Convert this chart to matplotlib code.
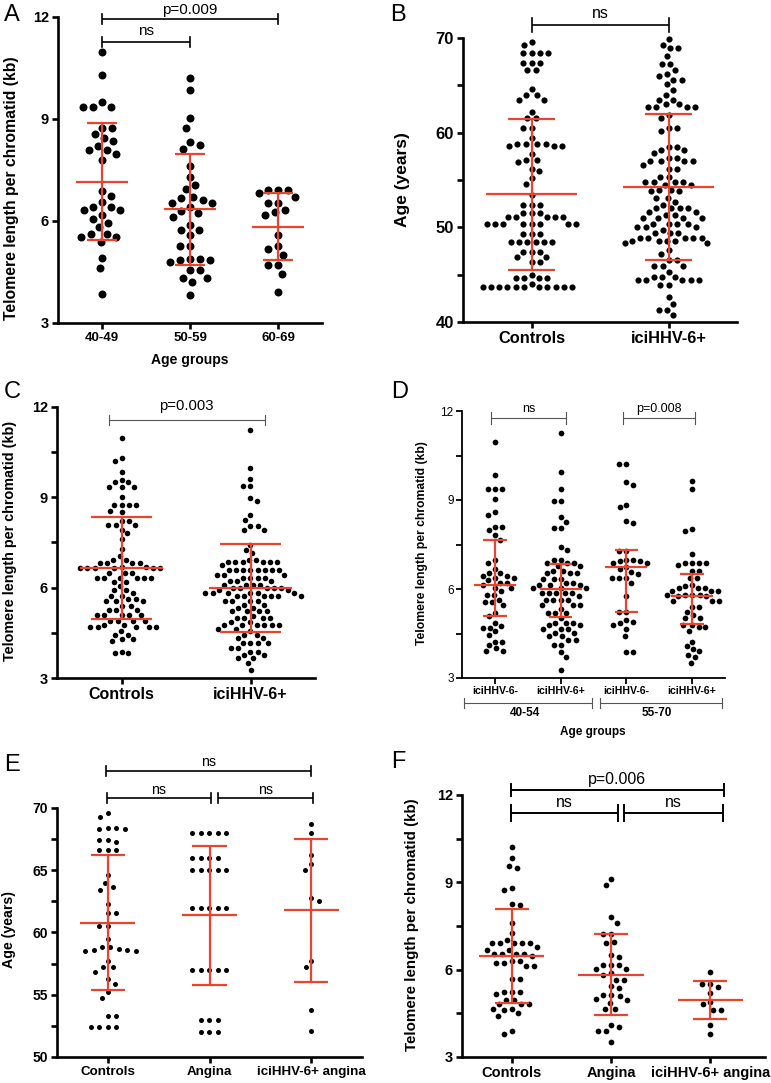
import numpy as np
import matplotlib
matplotlib.use("Agg")
import matplotlib.pyplot as plt

plt.rcParams['font.family'] = ['Liberation Sans', 'DejaVu Sans']

# ---------------- DATA ----------------
# Panel A: telomere length by age group
A_groups = ['40-49', '50-59', '60-69']
A_40_49 = [10.97, 10.30, 9.49, 9.35, 9.35, 9.35, 8.75, 8.75, 8.55, 8.45, 8.35, 8.22, 8.09, 8.09, 7.97,
           7.80, 6.89, 6.74, 6.55, 6.42, 6.42, 6.32, 6.32, 6.17, 6.07, 5.93, 5.81, 5.63, 5.63, 5.53,
           5.53, 5.39, 4.92, 4.63, 3.84]
A_50_59 = [10.21, 9.84, 9.02, 8.75, 8.31, 8.24, 8.11, 7.63, 7.30, 7.05, 6.93, 6.72, 6.67, 6.62, 6.54,
           6.54, 6.42, 6.30, 6.25, 6.13, 5.88, 5.73, 5.73, 5.58, 5.27, 5.27, 4.87, 4.87, 4.84, 4.84,
           4.78, 4.55, 4.55, 4.33, 4.33, 4.21, 3.82]
A_60_69 = [6.92, 6.92, 6.92, 6.82, 6.72, 6.54, 6.54, 6.32, 6.26, 6.17, 5.60, 5.26, 5.19, 5.00, 4.70,
           4.70, 4.43, 3.91]
A_mean = [7.16, 6.34, 5.83]
A_sd = [1.73, 1.63, 0.99]

# Panel B: age of controls and iciHHV-6+
B_groups = ['Controls', 'iciHHV-6+']
B_controls = [69.6, 69.3, 68.4, 68.4, 68.4, 68.4, 67.35, 67.35, 67.35, 66.6, 66.6, 64.6, 64.0, 64.0,
              63.5, 63.5, 62.2, 61.5, 61.5, 60.5, 60.5, 59.4, 58.8, 58.8, 58.8, 58.6, 58.6, 58.6, 58.8,
              57.7, 57.1, 57.1, 56.9, 56.2, 55.9, 55.2, 54.6, 53.4, 52.4, 52.4, 52.4, 51.5, 51.5, 51.5,
              51.1, 51.1, 51.1, 51.1, 51.1, 50.4, 50.4, 50.4, 50.4, 50.4, 50.4, 50.4, 50.4, 49.25, 49.25,
              49.25, 48.5, 48.5, 48.5, 48.5, 48.5, 48.5, 47.4, 47.4, 47.4, 46.9, 46.9, 46.3, 46.3, 45.0,
              44.6, 44.6, 44.6, 44.6, 44.0, 43.7, 43.7, 43.7, 43.7, 43.7, 43.7, 43.7, 43.7, 43.7, 43.7,
              43.7]
B_ici = [69.9, 69.3, 68.9, 68.9, 68.1, 67.3, 67.3, 66.6, 66.2, 66.0, 65.6, 65.6, 65.1, 64.5, 64.0,
         63.5, 63.5, 63.0, 63.0, 62.7, 62.7, 62.7, 62.7, 61.9, 61.5, 60.5, 60.5, 60.2, 58.5, 58.5,
         58.2, 58.2, 57.8, 57.3, 57.3, 57.0, 57.0, 57.0, 57.0, 56.6, 56.2, 56.2, 55.3, 55.3, 54.8,
         54.8, 54.8, 54.8, 54.5, 54.5, 53.9, 53.9, 53.8, 53.8, 53.1, 53.1, 52.7, 52.4, 52.0, 52.0,
         52.0, 52.0, 51.6, 51.6, 51.3, 51.3, 51.0, 51.0, 51.0, 51.0, 50.3, 50.3, 50.3, 50.3, 50.0,
         50.0, 50.0, 49.7, 49.4, 49.4, 49.4, 48.9, 48.9, 48.9, 48.9, 48.9, 48.6, 48.6, 48.6, 48.6,
         48.3, 48.3, 47.6, 47.2, 46.5, 46.5, 45.9, 45.9, 45.9, 45.3, 44.8, 44.8, 44.8, 44.4, 44.4,
         44.4, 44.4, 44.4, 43.9, 43.9, 42.6, 41.9, 41.3, 41.3, 40.7]
B_mean = [53.48, 54.3]
B_sd = [8.0, 7.7]

# Panel C: telomere length, controls vs iciHHV-6+
C_groups = ['Controls', 'iciHHV-6+']
C_controls = [10.97, 10.31, 10.2, 9.83, 9.59, 9.5, 9.5, 9.35, 9.35, 9.35, 9.0, 8.75, 8.75, 8.75, 8.75,
              8.55, 8.5, 8.22, 8.22, 8.09, 8.09, 8.09, 7.93, 7.8, 7.6, 7.27, 7.04, 6.93, 6.93, 6.82,
              6.82, 6.82, 6.82, 6.7, 6.7, 6.66, 6.66, 6.66, 6.66, 6.66, 6.66, 6.49, 6.49, 6.49, 6.32,
              6.32, 6.32, 6.32, 6.32, 6.32, 6.18, 6.18, 6.04, 5.93, 5.93, 5.82, 5.71, 5.71, 5.62, 5.62,
              5.55, 5.55, 5.55, 5.4, 5.4, 5.27, 5.27, 5.27, 5.08, 5.08, 5.08, 5.08, 5.08, 4.88, 4.88,
              4.88, 4.88, 4.77, 4.77, 4.68, 4.68, 4.68, 4.68, 4.68, 4.55, 4.44, 4.44, 4.3, 4.3, 4.22,
              3.88, 3.83, 3.83]
C_ici = [11.25, 9.97, 9.62, 9.37, 9.37, 8.98, 8.87, 8.42, 8.26, 8.04, 8.04, 7.93, 7.93, 7.43, 7.26,
         7.15, 6.93, 6.93, 6.84, 6.84, 6.84, 6.84, 6.84, 6.84, 6.76, 6.6, 6.6, 6.6, 6.6, 6.6, 6.6,
         6.6, 6.6, 6.43, 6.43, 6.43, 6.32, 6.32, 6.32, 6.32, 6.21, 6.21, 6.21, 6.1, 6.1, 6.1, 6.1,
         5.99, 5.99, 5.99, 5.99, 5.99, 5.91, 5.91, 5.82, 5.82, 5.82, 5.82, 5.82, 5.82, 5.71, 5.71,
         5.71, 5.71, 5.71, 5.71, 5.55, 5.55, 5.55, 5.55, 5.44, 5.44, 5.33, 5.33, 5.21, 5.21, 5.21,
         5.21, 5.07, 5.0, 5.0, 5.0, 5.0, 4.85, 4.85, 4.77, 4.77, 4.77, 4.77, 4.77, 4.77, 4.64, 4.64,
         4.55, 4.44, 4.44, 4.33, 4.33, 4.16, 4.16, 4.16, 4.16, 4.0, 4.0, 3.88, 3.88, 3.77, 3.77,
         3.66, 3.66, 3.5, 3.28]
C_mean = [6.65, 5.99]
C_sd = [1.69, 1.47]

# Panel D: telomere length by HHV-6 status within age groups (median with IQR)
D_groups = ['iciHHV-6-', 'iciHHV-6+', 'iciHHV-6-', 'iciHHV-6+']
D_age_groups = ['40-54', '55-70']
D_neg_40_54 = [10.97, 9.85, 9.36, 9.36, 9.36, 9.03, 8.58, 8.5, 8.1, 8.1, 8.0, 7.83, 7.66, 6.98, 6.89,
               6.67, 6.53, 6.53, 6.44, 6.44, 6.37, 6.37, 6.29, 6.2, 6.2, 6.14, 6.03, 6.03, 5.94, 5.8,
               5.8, 5.64, 5.55, 5.55, 5.47, 5.19, 5.08, 4.85, 4.76, 4.7, 4.7, 4.57, 4.46, 4.23, 4.23,
               4.12, 4.0, 3.9, 3.9]
D_pos_40_54 = [11.25, 9.96, 9.36, 8.95, 8.95, 8.42, 8.27, 8.05, 8.05, 7.41, 7.3, 6.98, 6.98, 6.89,
               6.89, 6.89, 6.76, 6.76, 6.59, 6.59, 6.53, 6.53, 6.53, 6.33, 6.33, 6.33, 6.2, 6.2, 6.14,
               6.14, 6.14, 6.03, 6.03, 6.03, 5.86, 5.86, 5.86, 5.86, 5.86, 5.75, 5.64, 5.64, 5.64, 5.64,
               5.47, 5.47, 5.47, 5.32, 5.19, 5.19, 5.19, 5.02, 4.87, 4.87, 4.87, 4.8, 4.8, 4.65, 4.65,
               4.65, 4.51, 4.51, 4.42, 4.42, 4.29, 4.29, 4.12, 4.12, 3.86, 3.7, 3.26]
D_neg_55_70 = [10.22, 10.22, 9.59, 9.5, 8.83, 8.76, 8.3, 8.24, 7.29, 7.29, 6.98, 6.98, 6.93, 6.93,
               6.87, 6.87, 6.74, 6.67, 6.56, 6.5, 6.37, 6.37, 6.37, 6.2, 5.75, 5.24, 5.24, 4.96, 4.9,
               4.85, 4.8, 4.65, 4.42, 3.86, 3.86]
D_pos_55_70 = [9.64, 9.37, 8.02, 7.97, 7.19, 6.87, 6.87, 6.87, 6.87, 6.81, 6.59, 6.59, 6.37, 6.37,
               6.14, 6.1, 6.03, 6.03, 6.03, 5.92, 5.92, 5.92, 5.8, 5.8, 5.8, 5.8, 5.75, 5.75, 5.61,
               5.61, 5.61, 5.41, 5.41, 5.24, 5.13, 5.02, 5.02, 4.8, 4.8, 4.71, 4.71, 4.59, 4.23, 4.09,
               3.97, 3.9, 3.78, 3.7, 3.5]
D_median = [6.14, 6.0, 6.73, 5.78]
D_q1 = [5.08, 5.05, 5.24, 4.82]
D_q3 = [7.66, 6.84, 7.30, 6.51]

# Panel E: age in controls / angina / iciHHV-6+ angina
E_groups = ['Controls', 'Angina', 'iciHHV-6+ angina']
E_controls = [69.6, 69.3, 68.4, 68.35, 68.35, 68.4, 67.4, 67.4, 67.3, 66.6, 66.6, 66.65, 64.65, 64.0,
              63.65, 63.45, 62.25, 61.55, 61.55, 60.55, 60.55, 59.5, 58.85, 58.7, 58.6, 58.55, 58.55,
              58.6, 58.8, 57.75, 57.2, 57.2, 56.85, 56.3, 55.9, 55.2, 54.7, 53.3, 53.3, 52.4, 52.4,
              52.4, 52.4]
E_angina = [68.0, 68.0, 68.0, 68.0, 68.0, 66.0, 66.0, 66.0, 66.0, 65.0, 65.0, 65.0, 65.0, 65.0,
            62.0, 62.0, 62.0, 62.0, 62.0, 57.0, 57.0, 57.0, 57.0, 57.0, 53.0, 53.0, 53.0, 52.0,
            52.0, 52.0]
E_ici_angina = [68.75, 68.0, 66.25, 65.5, 65.05, 62.8, 62.5, 57.75, 57.2, 53.75, 52.1]
E_mean = [60.8, 61.38, 61.78]
E_sd = [5.45, 5.6, 5.73]

# Panel F: telomere length in controls / angina / iciHHV-6+ angina
F_groups = ['Controls', 'Angina', 'iciHHV-6+ angina']
F_controls = [10.2, 9.82, 9.56, 9.48, 8.82, 8.73, 8.27, 8.22, 7.59, 7.26, 7.03, 6.9, 6.9, 6.9, 6.9,
              6.9, 6.78, 6.69, 6.69, 6.55, 6.55, 6.55, 6.55, 6.47, 6.3, 6.3, 6.23, 6.23, 6.12, 6.12,
              5.68, 5.68, 5.23, 5.23, 5.23, 5.15, 4.97, 4.97, 4.83, 4.83, 4.83, 4.66, 4.66, 4.6, 4.51,
              4.41, 3.89, 3.8]
F_angina = [9.1, 8.9, 7.81, 7.62, 7.21, 7.21, 6.95, 6.92, 6.52, 6.44, 6.17, 6.17, 6.15, 6.04, 6.04,
            5.87, 5.81, 5.66, 5.66, 5.43, 5.37, 5.14, 5.14, 5.1, 5.0, 4.97, 4.87, 4.66, 4.66, 4.09,
            4.03, 3.89, 3.89, 3.51]
F_ici_angina = [5.92, 5.52, 5.52, 5.4, 5.2, 4.89, 4.81, 4.6, 4.63, 4.09, 3.8]
F_mean = [6.47, 5.83, 4.95]
F_sd = [1.61, 1.38, 0.65]

# ---------------- HELPERS ----------------
W, H = 771, 1083
RED = '#e8452c'
fig = plt.figure(figsize=(W / 100, H / 100), dpi=100)


def add_ax(l, t, r, b):
    return fig.add_axes([l / W, 1 - b / H, (r - l) / W, (b - t) / H])


def ftext(x, y, s, **kw):
    fig.text(x / W, 1 - y / H, s, **kw)


def swarm_x(ax, xc, vals, dpx):
    vals = np.asarray(vals, float)
    disp = ax.transData.transform(np.column_stack([np.full(len(vals), float(xc)), vals]))
    x0 = disp[0, 0]
    ys = disp[:, 1]
    offs = np.zeros(len(vals))
    placed = []
    flip = 1
    for i in np.argsort(-ys, kind='stable'):
        y = ys[i]
        ints = []
        for px, py in placed:
            dy = abs(y - py)
            if dy < dpx:
                w = np.sqrt(dpx ** 2 - dy ** 2)
                ints.append((px - w, px + w))
        cands = [0.0] + [a for a, b in ints] + [b for a, b in ints]
        cands.sort(key=lambda c: (round(abs(c), 6), flip * c))
        off = 0.0
        for c in cands:
            if all(not (a + 1e-6 < c < b - 1e-6) for a, b in ints):
                off = c
                break
        if off != 0:
            flip = -flip
        placed.append((off, y))
        offs[i] = off
    return ax.transData.inverted().transform(np.column_stack([x0 + offs, ys]))[:, 0]


def setup(ax, xlim, ylim, yticks, yminor, spine_lw, tick_fs, bold=True, ticklen=4.5):
    ax.set_xlim(*xlim)
    ax.set_ylim(*ylim)
    for s in ['top', 'right']:
        ax.spines[s].set_visible(False)
    for s in ['left', 'bottom']:
        ax.spines[s].set_linewidth(spine_lw)
    ax.set_yticks(yticks)
    if yminor:
        ax.set_yticks(yminor, minor=True)
    ax.tick_params(axis='both', which='both', direction='out', width=spine_lw, length=ticklen,
                   labelsize=tick_fs, pad=2)
    ax.tick_params(axis='x', which='minor', bottom=False)
    w = 'bold' if bold else 'normal'
    for lab in ax.get_yticklabels():
        lab.set_fontweight(w)
    ax.patch.set_alpha(0)


def draw_groups(ax, groups_vals, dpx, factor, s):
    for i, vals in enumerate(groups_vals):
        xs = swarm_x(ax, i, vals, dpx * factor)
        ax.scatter(xs, vals, s=s, color='black', linewidths=0, zorder=2, clip_on=False)


def errbars(ax, centers, lows, highs, mean_hw, cap_hw, lw):
    xs = np.arange(len(centers), dtype=float)
    centers = np.asarray(centers, float)
    lows = np.asarray(lows, float)
    highs = np.asarray(highs, float)
    ax.hlines(centers, xs - mean_hw, xs + mean_hw, color=RED, lw=lw, zorder=3)
    ax.vlines(xs, lows, highs, color=RED, lw=lw, zorder=3)
    ax.hlines(highs, xs - cap_hw, xs + cap_hw, color=RED, lw=lw, zorder=3)
    ax.hlines(lows, xs - cap_hw, xs + cap_hw, color=RED, lw=lw, zorder=3)


def mean_sd(ax, means, sds, mean_hw, cap_hw, lw):
    m = np.asarray(means, float)
    s = np.asarray(sds, float)
    errbars(ax, m, m - s, m + s, mean_hw, cap_hw, lw)


def bracket(ax, x1, x2, y, cap, color, lw, text=None, ty=None, fs=10):
    ax.plot([x1, x2], [y, y], color=color, lw=lw, clip_on=False, solid_capstyle='butt')
    ax.plot([x1, x1], [y - cap, y + cap], color=color, lw=lw, clip_on=False)
    ax.plot([x2, x2], [y - cap, y + cap], color=color, lw=lw, clip_on=False)
    if text is not None:
        ax.text((x1 + x2) / 2, ty, text, ha='center', va='center', fontsize=fs, clip_on=False)


# ---------------- PANEL A ----------------
axA = add_ax(58, 17, 322, 323)
setup(axA, (-0.5, 2.5), (3, 12), [3, 6, 9, 12], None, 1.9, 10.5)
axA.set_xticks(range(3))
axA.set_xticklabels(A_groups, fontsize=9.5, fontweight='bold')
draw_groups(axA, [A_40_49, A_50_59, A_60_69], 8, 1.25, 33)
mean_sd(axA, A_mean, A_sd, 0.29, 0.17, 1.6)
bracket(axA, 0, 2, 11.94, 0.15, 'black', 1.2, 'p=0.009', 12.2, 11)
bracket(axA, 0, 1, 11.26, 0.15, 'black', 1.2, 'ns', 11.6, 11)
ftext(190, 360, 'Age groups', fontsize=10, fontweight='bold', ha='center', va='center')
ftext(12, 188, 'Telomere length per chromatid (kb)', fontsize=11.3, fontweight='bold',
      rotation=90, ha='center', va='center')
ftext(4, 15, 'A', fontsize=17, ha='left', va='center')

# ---------------- PANEL B ----------------
axB = add_ax(463, 38, 737, 322)
setup(axB, (-0.5, 1.5), (40, 70), [40, 50, 60, 70], [45, 55, 65], 1.9, 12)
axB.set_xticks(range(2))
axB.set_xticklabels(B_groups, fontsize=11.8, fontweight='bold')
draw_groups(axB, [B_controls, B_ici], 6.3, 1.3, 20)
mean_sd(axB, B_mean, B_sd, 0.33, 0.17, 1.6)
bracket(axB, 0, 1, 71.37, 0.74, 'black', 1.2, 'ns', 72.6, 11.5)
ftext(403, 180, 'Age (years)', fontsize=12.5, fontweight='bold', rotation=90,
      ha='center', va='center')
ftext(390, 15, 'B', fontsize=17, ha='left', va='center')

# ---------------- PANEL C ----------------
axC = add_ax(57, 407, 315, 678)
setup(axC, (-0.5, 1.5), (3, 12), [3, 6, 9, 12], [4.5, 7.5, 10.5], 1.9, 10.5)
axC.set_xticks(range(2))
axC.set_xticklabels(C_groups, fontsize=11.5, fontweight='bold')
draw_groups(axC, [C_controls, C_ici], 5.5, 1.3, 16)
mean_sd(axC, C_mean, C_sd, 0.32, 0.24, 1.6)
bracket(axC, -0.1, 1.11, 11.57, 0.17, '#555555', 0.8, 'p=0.003', 12.03, 10.7)
ftext(10, 541, 'Telomere length per chromatid (kb)', fontsize=10.4, fontweight='bold',
      rotation=90, ha='center', va='center')
ftext(4, 392, 'C', fontsize=17, ha='left', va='center')

# ---------------- PANEL D ----------------
axD = add_ax(462, 411, 725, 678)
setup(axD, (-0.5, 3.5), (3, 12), [3, 6, 9, 12], [4.5, 7.5, 10.5], 1.3, 8.5, bold=False,
      ticklen=4)
axD.set_xticks(range(4))
axD.set_xticklabels(D_groups, fontsize=7.6, fontweight='bold')
draw_groups(axD, [D_neg_40_54, D_pos_40_54, D_neg_55_70, D_pos_55_70], 5.7, 1.22, 17)
errbars(axD, D_median, D_q1, D_q3, 0.32, 0.18, 1.6)
bracket(axD, -0.06, 1.08, 11.76, 0.2, '#555555', 0.8, 'ns', 12.07, 9)
bracket(axD, 1.95, 3.04, 11.76, 0.2, '#555555', 0.8, 'p=0.008', 12.07, 9)
bracket(axD, -0.47, 1.48, 2.16, 0.17, '#555555', 0.8)
bracket(axD, 1.6, 3.45, 2.16, 0.17, '#555555', 0.8)
axD.text(0.46, 1.82, D_age_groups[0], ha='center', va='center', fontsize=8.5,
         fontweight='bold', clip_on=False)
axD.text(2.47, 1.82, D_age_groups[1], ha='center', va='center', fontsize=8.5,
         fontweight='bold', clip_on=False)
ftext(593, 732, 'Age groups', fontsize=8.5, fontweight='bold', ha='center', va='center')
ftext(422, 543, 'Telomere length per chromatid (kb)', fontsize=8.7, fontweight='bold',
      rotation=90, ha='center', va='center')
ftext(391, 392, 'D', fontsize=17, ha='left', va='center')

# ---------------- PANEL E ----------------
axE = add_ax(57, 808, 362, 1057)
setup(axE, (-0.5, 2.5), (50, 70), [50, 55, 60, 65, 70], [52.5, 57.5, 62.5, 67.5], 1.9, 10)
axE.set_xticks(range(3))
axE.set_xticklabels(E_groups, fontsize=9.6, fontweight='bold')
draw_groups(axE, [E_controls, E_angina, E_ici_angina], 5, 1.7, 13)
mean_sd(axE, E_mean, E_sd, 0.27, 0.17, 1.6)
bracket(axE, -0.02, 2.0, 72.97, 0.4, 'black', 1.2, 'ns', 73.7, 10.2)
bracket(axE, -0.01, 1.01, 70.8, 0.4, 'black', 1.2, 'ns', 71.45, 10.2)
bracket(axE, 1.08, 2.02, 70.8, 0.4, 'black', 1.2, 'ns', 71.45, 10.2)
ftext(9, 930, 'Age (years)', fontsize=10.2, fontweight='bold', rotation=90,
      ha='center', va='center')
ftext(4, 765, 'E', fontsize=17, ha='left', va='center')

# ---------------- PANEL F ----------------
axF = add_ax(462, 795, 765, 1057)
setup(axF, (-0.5, 2.55), (3, 12), [3, 6, 9, 12], [4.5, 7.5, 10.5], 1.9, 10.5)
axF.set_xticks(range(3))
axF.set_xticklabels(F_groups, fontsize=10.5, fontweight='bold')
draw_groups(axF, [F_controls, F_angina, F_ici_angina], 5.7, 1.4, 17)
mean_sd(axF, F_mean, F_sd, 0.33, 0.17, 1.6)
bracket(axF, -0.01, 2.14, 12.17, 0.2, 'black', 1.4, 'p=0.006', 12.52, 11.5)
bracket(axF, -0.01, 1.07, 11.38, 0.26, 'black', 1.4, 'ns', 11.73, 11.5)
bracket(axF, 1.13, 2.13, 11.38, 0.26, 'black', 1.4, 'ns', 11.73, 11.5)
ftext(412, 925, 'Telomere length per chromatid (kb)', fontsize=10.9, fontweight='bold',
      rotation=90, ha='center', va='center')
ftext(391, 762, 'F', fontsize=17, ha='left', va='center')

fig.savefig('out.png', dpi=100)
